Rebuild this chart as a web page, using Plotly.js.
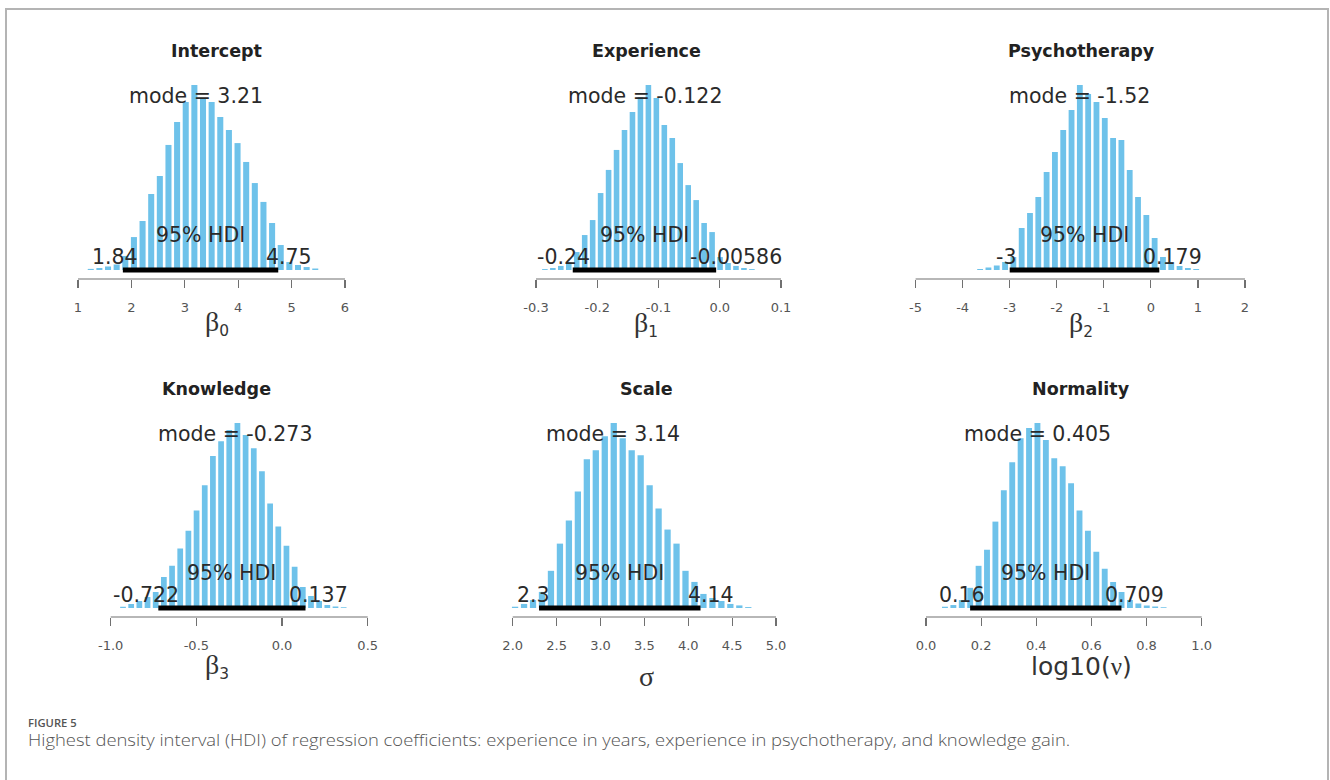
<!DOCTYPE html>
<html>
<head>
<meta charset="utf-8">
<script src="https://cdn.plot.ly/plotly-3.0.1.min.js"></script>
<style>
  html, body { margin: 0; padding: 0; background: #fff; width: 1330px; height: 780px; overflow: hidden; }
  #frame { position: absolute; left: 5px; top: 8px; width: 1324px; height: 800px;
           border: 2px solid #b4b4b4; border-bottom: none; box-sizing: border-box; }
  #chart { position: absolute; left: 0; top: 0; width: 1330px; height: 780px; }
  .cap { position: absolute; left: 28px; font-family: "Open Sans", sans-serif; color: #555;
         white-space: nowrap; transform-origin: 0 50%; }
  #figlabel { top: 715px; font-size: 11px; line-height: 16px; font-weight: 600; transform: scaleX(1.02); }
  #figtext { top: 730px; font-size: 16px; line-height: 20px; font-weight: 300; transform: scaleX(1.15); }
</style>
</head>
<body>
<div id="frame"></div>
<div id="chart"></div>
<div class="cap" id="figlabel">FIGURE 5</div>
<div class="cap" id="figtext">Highest density interval (HDI) of regression coefficients: experience in years, experience in psychotherapy, and knowledge gain.</div>
<script>
// Posterior summaries for each parameter
const panelTitles = ['Intercept', 'Experience', 'Psychotherapy', 'Knowledge', 'Scale', 'Normality'];
const modeValues = [3.21, -0.122, -1.52, -0.273, 3.14, 0.405];
const hdiLow = [1.84, -0.24, -3, -0.722, 2.3, 0.16];
const hdiHigh = [4.75, -0.00586, 0.179, 0.137, 4.14, 0.709];

// Histogram breaks (first break and bin width) and relative bin heights
const binStart = [1.158, -0.292, -3.717, -0.952, 1.976, 0.0535];
const binWidth = [0.1617, 0.0130, 0.1766, 0.0477, 0.1022, 0.0305];
const heightsIntercept = [0.6, 1.1, 1.9, 3.0, 7.6, 17.8, 26.5, 41.1, 50.8, 67.6, 80.0, 90.8, 100, 93.0, 90.8, 82.7, 75.7, 68.6, 58.4, 47.0, 36.8, 25.4, 13.5, 4.3, 2.7, 1.6, 0.8];
const heightsExperience = [0.5, 1.1, 2.2, 4.3, 9.7, 18.9, 27.0, 41.6, 54.1, 64.9, 75.7, 85.4, 93.5, 100, 93.0, 78.4, 71.4, 57.8, 45.9, 37.8, 25.4, 20.5, 7.0, 3.8, 2.2, 1.1, 0.5];
const heightsPsychotherapy = [0.5, 1.4, 2.4, 4.3, 7.0, 22.7, 30.8, 39.5, 53.0, 63.8, 75.7, 86.5, 100, 95.1, 90.8, 82.2, 71.4, 70.3, 54.1, 39.5, 29.7, 17.3, 7.0, 4.3, 2.2, 1.1, 0.5];
const heightsKnowledge = [0.7, 2.2, 3.8, 6.0, 8.7, 16.8, 22.8, 32.1, 41.8, 52.7, 66.3, 82.1, 90.2, 96.2, 100, 93.5, 86.4, 73.9, 56.5, 44.0, 33.7, 22.3, 11.4, 6.5, 3.8, 1.6, 0.8, 0.4];
const heightsScale = [0.7, 2.2, 4.3, 8.7, 20.1, 34.8, 47.3, 63.0, 80.4, 85.3, 92.9, 100, 91.8, 85.3, 82.6, 66.3, 53.8, 42.4, 34.8, 20.1, 14.1, 7.6, 5.4, 3.8, 2.2, 1.4, 0.5];
const heightsNormality = [0.7, 1.6, 4.3, 10.9, 22.8, 31.5, 46.7, 63.6, 78.8, 91.8, 97.3, 100, 90.8, 81.0, 76.6, 67.4, 52.7, 41.8, 30.4, 21.2, 14.1, 8.7, 4.3, 2.4, 1.4, 0.8, 0.4];
const binHeights = [heightsIntercept, heightsExperience, heightsPsychotherapy, heightsKnowledge, heightsScale, heightsNormality];

// Axis ticks
const tickValues = [
  [1, 2, 3, 4, 5, 6],
  [-0.3, -0.2, -0.1, 0, 0.1],
  [-5, -4, -3, -2, -1, 0, 1, 2],
  [-1, -0.5, 0, 0.5],
  [2, 2.5, 3, 3.5, 4, 4.5, 5],
  [0, 0.2, 0.4, 0.6, 0.8, 1]
];
const tickLabels = [
  ['1', '2', '3', '4', '5', '6'],
  ['-0.3', '-0.2', '-0.1', '0.0', '0.1'],
  ['-5', '-4', '-3', '-2', '-1', '0', '1', '2'],
  ['-1.0', '-0.5', '0.0', '0.5'],
  ['2.0', '2.5', '3.0', '3.5', '4.0', '4.5', '5.0'],
  ['0.0', '0.2', '0.4', '0.6', '0.8', '1.0']
];
const GREEK = 'font-family:Liberation Serif;font-size:28px';
const axisLabels = [
  '<span style="' + GREEK + '">β</span><sub>0</sub>',
  '<span style="' + GREEK + '">β</span><sub>1</sub>',
  '<span style="' + GREEK + '">β</span><sub>2</sub>',
  '<span style="' + GREEK + '">β</span><sub>3</sub>',
  '<span style="' + GREEK + '">σ</span>',
  'log10(<span style="font-family:Liberation Serif">ν</span>)'
];

// Page geometry (pixels)
const W = 1330, H = 780;
const tickPx = [[78, 345], [536, 781], [915.6, 1245], [110.7, 367.7], [512.7, 776], [926, 1201.7]];
const colCenter = [216.5, 646, 1081];
const rowGeom = [
  { top: 85, base: 270, axis: 279, title: 51 },
  { top: 423, base: 608, axis: 617, title: 389 }
];
const xlabCenter = [323, 324, 324, 666, 676, 666];
const xlabSize = [22, 22, 22, 22, 22, 25];
const PAD = 12;
const TEXT_FONT = 'DejaVu Sans';
const TEXT_SIZE = 20.5;
const TEXT_COLOR = '#2a2a2a';
const BAR_COLOR = '#6ec2ea';

const measureCtx = document.createElement('canvas').getContext('2d');
function textWidth(str, size) {
  measureCtx.font = size + 'px "' + TEXT_FONT + '"';
  return measureCtx.measureText(str).width;
}

const data = [];
const shapes = [];
const annotations = [];
const layout = {
  width: W, height: H,
  margin: { l: 0, r: 0, t: 0, b: 0 },
  paper_bgcolor: 'rgba(0,0,0,0)',
  plot_bgcolor: 'rgba(0,0,0,0)',
  showlegend: false,
  bargap: 0.3,
  font: { family: TEXT_FONT, color: TEXT_COLOR }
};

panelTitles.forEach((title, i) => {
  const k = i + 1;
  const sfx = k === 1 ? '' : String(k);
  const row = rowGeom[i < 3 ? 0 : 1];
  const col = i % 3;
  const ticks = tickValues[i];
  const t0 = ticks[0], t1 = ticks[ticks.length - 1];
  const p0 = tickPx[i][0], p1 = tickPx[i][1];
  const pxPerUnit = (p1 - p0) / (t1 - t0);
  const heights = binHeights[i];
  const hMax = Math.max(...heights);

  layout['xaxis' + sfx] = {
    domain: [(p0 - PAD) / W, (p1 + PAD) / W],
    range: [t0 - PAD / pxPerUnit, t1 + PAD / pxPerUnit],
    anchor: 'y' + sfx,
    tickmode: 'array', tickvals: ticks, ticktext: tickLabels[i],
    ticks: 'outside', ticklen: 8, tickwidth: 1.2, tickcolor: '#707070',
    ticklabelstandoff: 8,
    tickfont: { family: TEXT_FONT, size: 13, color: '#555' },
    showline: false, showgrid: false, zeroline: false, fixedrange: true
  };
  layout['yaxis' + sfx] = {
    domain: [1 - row.axis / H, 1 - row.top / H],
    range: [-(row.axis - row.base) / (row.base - row.top) * hMax, hMax],
    anchor: 'x' + sfx, visible: false, fixedrange: true
  };

  // histogram bars
  const centers = heights.map((_, j) => binStart[i] + (j + 0.5) * binWidth[i]);
  data.push({
    type: 'bar', x: centers, y: heights,
    xaxis: 'x' + sfx, yaxis: 'y' + sfx,
    marker: { color: BAR_COLOR, line: { width: 0 } },
    hoverinfo: 'skip'
  });
  // HDI segment
  data.push({
    type: 'scatter', mode: 'lines',
    x: [hdiLow[i], hdiHigh[i]], y: [0, 0],
    xaxis: 'x' + sfx, yaxis: 'y' + sfx,
    line: { color: '#000', width: 5 },
    cliponaxis: false, hoverinfo: 'skip'
  });

  // axis line spanning the first to last tick
  shapes.push({
    type: 'line', xref: 'x' + sfx, yref: 'y' + sfx + ' domain',
    x0: t0, x1: t1, y0: 0, y1: 0,
    line: { color: '#707070', width: 1.2 }
  });

  const txtFont = { family: TEXT_FONT, size: TEXT_SIZE, color: TEXT_COLOR };
  const capHalf = 0.364 * TEXT_SIZE;

  annotations.push({
    xref: 'paper', yref: 'paper',
    x: colCenter[col] / W, y: 1 - row.title / H,
    text: '<b>' + title + '</b>', showarrow: false,
    xanchor: 'center', yanchor: 'middle',
    font: { family: TEXT_FONT, size: 17.5, color: '#222' }
  });
  annotations.push({
    xref: 'x' + sfx, yref: 'y' + sfx,
    x: modeValues[i], y: 0.9 * hMax, yshift: capHalf,
    text: 'mode = ' + modeValues[i], showarrow: false,
    xanchor: 'center', yanchor: 'middle', font: txtFont
  });
  annotations.push({
    xref: 'x' + sfx, yref: 'y' + sfx,
    x: (hdiLow[i] + hdiHigh[i]) / 2, y: 0, yshift: 35,
    text: '95% HDI', showarrow: false,
    xanchor: 'center', yanchor: 'middle', font: txtFont
  });
  const loTxt = String(hdiLow[i]);
  const hiTxt = String(hdiHigh[i]);
  annotations.push({
    xref: 'x' + sfx, yref: 'y' + sfx,
    x: hdiLow[i], y: 0, yshift: 13, xshift: -0.7 * textWidth(loTxt, TEXT_SIZE) - 1,
    text: loTxt, showarrow: false,
    xanchor: 'left', yanchor: 'middle', font: txtFont
  });
  annotations.push({
    xref: 'x' + sfx, yref: 'y' + sfx,
    x: hdiHigh[i], y: 0, yshift: 13, xshift: -0.3 * textWidth(hiTxt, TEXT_SIZE) - 1,
    text: hiTxt, showarrow: false,
    xanchor: 'left', yanchor: 'middle', font: txtFont
  });
  annotations.push({
    xref: 'paper', yref: 'paper',
    x: colCenter[col] / W, y: 1 - xlabCenter[i] / H,
    text: axisLabels[i], showarrow: false,
    xanchor: 'center', yanchor: 'middle',
    font: { family: TEXT_FONT, size: xlabSize[i], color: '#333' }
  });
});

layout.shapes = shapes;
layout.annotations = annotations;

Plotly.newPlot('chart', data, layout, { staticPlot: true, displayModeBar: false });
</script>
</body>
</html>
